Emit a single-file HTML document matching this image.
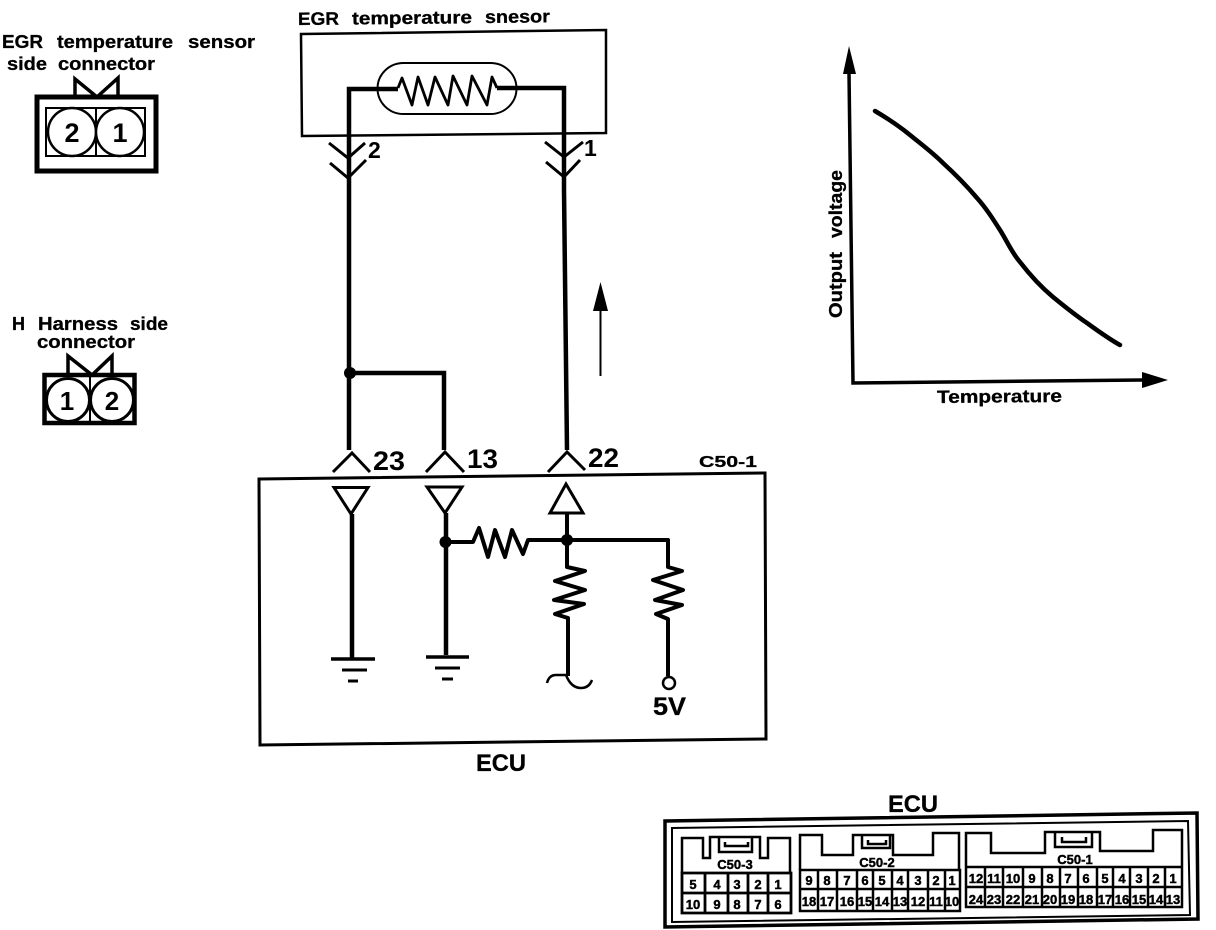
<!DOCTYPE html>
<html>
<head>
<meta charset="utf-8">
<style>
html,body{margin:0;padding:0;background:#fff;}
svg{display:block;}
text{font-family:"Liberation Sans",sans-serif;font-weight:bold;fill:#000;stroke:none;}
.l{stroke:#000;stroke-width:.3px;}
.n{font-size:13px;text-anchor:middle;stroke:#000;stroke-width:.45px;}
</style>
</head>
<body>
<svg width="1216" height="930" viewBox="0 0 1216 930" xmlns="http://www.w3.org/2000/svg" fill="none" stroke="#000" stroke-linejoin="miter">

<!-- top-left labels -->
<text class="l" x="2" y="48" font-size="18" textLength="41" lengthAdjust="spacingAndGlyphs">EGR</text>
<text class="l" x="57" y="48" font-size="18" textLength="116" lengthAdjust="spacingAndGlyphs">temperature</text>
<text class="l" x="188" y="48" font-size="18" textLength="67" lengthAdjust="spacingAndGlyphs">sensor</text>
<text class="l" x="7" y="70" font-size="18" textLength="40" lengthAdjust="spacingAndGlyphs">side</text>
<text class="l" x="58" y="70" font-size="18" textLength="97" lengthAdjust="spacingAndGlyphs">connector</text>

<!-- sensor side connector -->
<rect x="37" y="97" width="119" height="74" stroke-width="5"/>
<rect x="46" y="108" width="99" height="48" stroke-width="2"/>
<line x1="96" y1="108" x2="96" y2="156" stroke-width="2"/>
<circle cx="72" cy="132" r="24" stroke-width="2.500" fill="#fff"/>
<circle cx="120" cy="132" r="24" stroke-width="2.500" fill="#fff"/>
<path d="M75,95 V79 L97,97 L118,78 V95" stroke-width="3.500"/>
<text x="72" y="142" font-size="27" text-anchor="middle">2</text>
<text x="120" y="142" font-size="27" text-anchor="middle">1</text>

<!-- harness labels -->
<text class="l" x="12" y="330" font-size="18" textLength="13" lengthAdjust="spacingAndGlyphs">H</text>
<text class="l" x="38" y="330" font-size="18" textLength="80" lengthAdjust="spacingAndGlyphs">Harness</text>
<text class="l" x="130" y="330" font-size="18" textLength="38" lengthAdjust="spacingAndGlyphs">side</text>
<text class="l" x="37" y="348" font-size="18" textLength="98" lengthAdjust="spacingAndGlyphs">connector</text>

<!-- harness connector -->
<rect x="44.500" y="375" width="90" height="48" stroke-width="4.500"/>
<line x1="90" y1="375" x2="90" y2="423" stroke-width="2"/>
<circle cx="68" cy="400" r="21.500" stroke-width="3" fill="#fff"/>
<circle cx="112" cy="400" r="21.500" stroke-width="3" fill="#fff"/>
<path d="M68,373 V356 L92,375 L112,356 V373" stroke-width="3.500"/>
<text x="67" y="410" font-size="26" text-anchor="middle">1</text>
<text x="112" y="410" font-size="26" text-anchor="middle">2</text>

<!-- sensor -->
<text class="l" x="298" y="25" font-size="18" textLength="41" lengthAdjust="spacingAndGlyphs" transform="rotate(-.6 298 25)">EGR</text>
<text class="l" x="352" y="24.500" font-size="18" textLength="120" lengthAdjust="spacingAndGlyphs" transform="rotate(-.6 352 24)">temperature</text>
<text class="l" x="485" y="23" font-size="18" textLength="65" lengthAdjust="spacingAndGlyphs" transform="rotate(-.6 485 23)">snesor</text>
<path d="M301,34 L606,30 V133 L302,136 Z" stroke-width="2.500"/>
<rect x="377.500" y="63" width="139" height="51" rx="26" ry="25.500" stroke-width="2"/>
<path d="M349,450 V89 H398 M497,88 H564 V190 L567,450" stroke-width="4.500"/>
<path d="M398,88 L402,78 L412,105 L418,77 L428,105 L435,77 L448,105 L453,76 L467,105 L472,76 L487,105 L492,77 L497,88" stroke-width="2.800" stroke-linejoin="round"/>
<path d="M329,143 L348,158 L365,143 M330,163 L348,178 L366,160" stroke-width="3"/>
<path d="M545,142 L564,157 L583,142 M546,162 L564,177 L580,160" stroke-width="3"/>
<text x="368" y="158" font-size="23">2</text>
<text x="584" y="156" font-size="23">1</text>

<!-- branch -->
<circle cx="350" cy="373" r="6" fill="#000" stroke="none"/>
<path d="M350,373 H444 V450" stroke-width="4.500"/>

<!-- arrow -->
<line x1="600.500" y1="376" x2="600.500" y2="300" stroke-width="2"/>
<path d="M600.500,282 L593,311 H608 Z" fill="#000" stroke="none"/>

<!-- ECU box -->
<path d="M259,479 L765,473 L766,739 L260,745 Z" stroke-width="3"/>
<path d="M333,472 L352,453 L370,472 M426,472 L445,452 L464,472 M548,472 L567,452 L585,470" stroke-width="3"/>
<text x="373" y="470" font-size="27" textLength="32" lengthAdjust="spacingAndGlyphs">23</text>
<text x="467" y="468" font-size="27" textLength="31" lengthAdjust="spacingAndGlyphs">13</text>
<text x="588" y="467" font-size="27" textLength="31" lengthAdjust="spacingAndGlyphs">22</text>
<text class="l" x="699" y="467" font-size="16" textLength="58" lengthAdjust="spacingAndGlyphs">C50-1</text>
<text class="l" x="476" y="771" font-size="24" textLength="50" lengthAdjust="spacingAndGlyphs">ECU</text>

<!-- ECU internals -->
<path d="M334,487.500 H368 L351,514 Z" stroke-width="3"/>
<path d="M352,514 V658" stroke-width="4.500"/>
<path d="M331,659 H375" stroke-width="3.500"/>
<path d="M342,670 H367 M348,681 H358" stroke-width="3"/>

<path d="M427,487 H462 L445,513 Z" stroke-width="3"/>
<path d="M446,513 V655" stroke-width="4.500"/>
<path d="M426,657 H469" stroke-width="3.500"/>
<path d="M435,668 H460 M442,679 H453" stroke-width="3"/>

<circle cx="445.500" cy="542" r="6" fill="#000" stroke="none"/>
<path d="M445,542 H473 L479,528 L488,557 L495,530 L505,557 L512,530 L523,554 L528,540 H668 V567 L682,571 L653,580 L683,590 L655,600 L682,605 L656,614 L668,619 V676" stroke-width="4" stroke-linejoin="round"/>
<circle cx="669" cy="683" r="6" stroke-width="2.500"/>
<text class="l" x="653" y="715" font-size="25" textLength="33" lengthAdjust="spacingAndGlyphs">5V</text>

<path d="M566,484 L583,513 H550 Z" stroke-width="3"/>
<circle cx="567" cy="540" r="6" fill="#000" stroke="none"/>
<path d="M567,513 V567 L585,571 L555,581 L585,590 L554,600 L584,604 L555,614 L568,618 V676" stroke-width="4" stroke-linejoin="round"/>
<path d="M547,683 Q549,675 556,675 H566 Q571,688 581,688 Q589,688 592,680" stroke-width="2.500"/>

<!-- graph -->
<path d="M849,73 L853,383 L1142,380" stroke-width="3.500"/>
<path d="M849,46 L843,74 H856 Z" fill="#000" stroke="none"/>
<path d="M1168,380 L1142,372 V388 Z" fill="#000" stroke="none"/>
<path d="M875,111 C887,118 899,126 910,135 C921,144 932,152 943,163 C955,174 966,185 977,198 C986,208 993,219 1000,230 C1007,241 1012,253 1020,262 C1030,275 1041,287 1053,297 C1064,306 1075,315 1087,323 C1098,331 1109,339 1120,345" stroke-width="4.500" stroke-linecap="round"/>
<text class="l" transform="translate(842,318) rotate(-90)" font-size="18" textLength="66" lengthAdjust="spacingAndGlyphs">Output</text>
<text class="l" transform="translate(842,238) rotate(-90)" font-size="18" textLength="68" lengthAdjust="spacingAndGlyphs">voltage</text>
<text class="l" x="937" y="403" font-size="18" textLength="125" lengthAdjust="spacingAndGlyphs" transform="rotate(-.5 937 403)">Temperature</text>

<!-- bottom ECU -->
<text class="l" x="888" y="812" font-size="24" textLength="50" lengthAdjust="spacingAndGlyphs">ECU</text>
<path d="M665,821 L1197,813 L1198,919 L665,927 Z" stroke-width="3.500"/>
<path d="M672,828 L1188,821 L1190,915 L672,922 Z" stroke-width="2"/>

<!-- C50-3 -->
<path d="M682,873 V838 H703 V858 H710 V837 H760 V858 H768 V838 H790 V873" stroke-width="2.500"/>
<path d="M719,838 V852 H752 V838 M725,842 V846 H748 V842" stroke-width="2.500"/>
<text class="n" x="735" y="869" font-size="12">C50-3</text>
<path d="M682,873 H791 V913 H682 Z M682,893 H791 M705,873 V913 M728,873 V913 M748,873 V913 M768,873 V913" stroke-width="2.800"/>
<text class="n" x="693" y="889">5</text><text class="n" x="717" y="889">4</text><text class="n" x="737" y="889">3</text><text class="n" x="758" y="889">2</text><text class="n" x="778" y="889">1</text>
<text class="n" x="693" y="909">10</text><text class="n" x="717" y="909">9</text><text class="n" x="737" y="909">8</text><text class="n" x="758" y="909">7</text><text class="n" x="778" y="909">6</text>

<!-- C50-2 -->
<path d="M800,870 V835 H822 V855 H853 V835 H893 V855 H933 V833 H959 V870" stroke-width="2.500"/>
<path d="M862,836 V848 H890 V836 M868,840 V844 H886 V840" stroke-width="2.500"/>
<text class="n" x="877" y="867" font-size="12">C50-2</text>
<path d="M800,870 H960 V911 H800 Z M800,889 H960 M818,870 V911 M837,870 V911 M857,870 V911 M873,870 V911 M892,870 V911 M908,870 V911 M928,870 V911 M945,870 V911" stroke-width="2.500"/>
<text class="n" x="809" y="885">9</text><text class="n" x="827" y="885">8</text><text class="n" x="847" y="885">7</text><text class="n" x="865" y="885">6</text><text class="n" x="882" y="885">5</text><text class="n" x="900" y="885">4</text><text class="n" x="918" y="885">3</text><text class="n" x="936" y="885">2</text><text class="n" x="952" y="885">1</text>
<text class="n" x="809" y="906">18</text><text class="n" x="827" y="906">17</text><text class="n" x="847" y="906">16</text><text class="n" x="865" y="906">15</text><text class="n" x="882" y="906">14</text><text class="n" x="900" y="906">13</text><text class="n" x="918" y="906">12</text><text class="n" x="936" y="906">11</text><text class="n" x="952" y="906">10</text>

<!-- C50-1 -->
<path d="M966,866 V833 H991 V853 H1045 V832 H1100 V851 H1153 V830 H1182 V866" stroke-width="2.500"/>
<path d="M1055,833 V847 H1092 V833 M1062,837 V842 H1086 V837" stroke-width="2.500"/>
<text class="n" x="1075" y="864" font-size="12">C50-1</text>
<path d="M966,867 H1182 V907 H966 Z M966,887 H1182 M985,867 V907 M1003,867 V907 M1023,867 V907 M1042,867 V907 M1060,867 V907 M1078,867 V907 M1097,867 V907 M1113,867 V907 M1130,867 V907 M1148,867 V907 M1165,867 V907" stroke-width="2.500"/>
<text class="n" x="976" y="883">12</text><text class="n" x="994" y="883">11</text><text class="n" x="1013" y="883">10</text><text class="n" x="1032" y="883">9</text><text class="n" x="1050" y="883">8</text><text class="n" x="1068" y="883">7</text><text class="n" x="1086" y="883">6</text><text class="n" x="1105" y="883">5</text><text class="n" x="1122" y="883">4</text><text class="n" x="1139" y="883">3</text><text class="n" x="1156" y="883">2</text><text class="n" x="1173" y="883">1</text>
<text class="n" x="976" y="904">24</text><text class="n" x="994" y="904">23</text><text class="n" x="1013" y="904">22</text><text class="n" x="1032" y="904">21</text><text class="n" x="1050" y="904">20</text><text class="n" x="1068" y="904">19</text><text class="n" x="1086" y="904">18</text><text class="n" x="1105" y="904">17</text><text class="n" x="1122" y="904">16</text><text class="n" x="1139" y="904">15</text><text class="n" x="1156" y="904">14</text><text class="n" x="1173" y="904">13</text>
</svg>
</body>
</html>
